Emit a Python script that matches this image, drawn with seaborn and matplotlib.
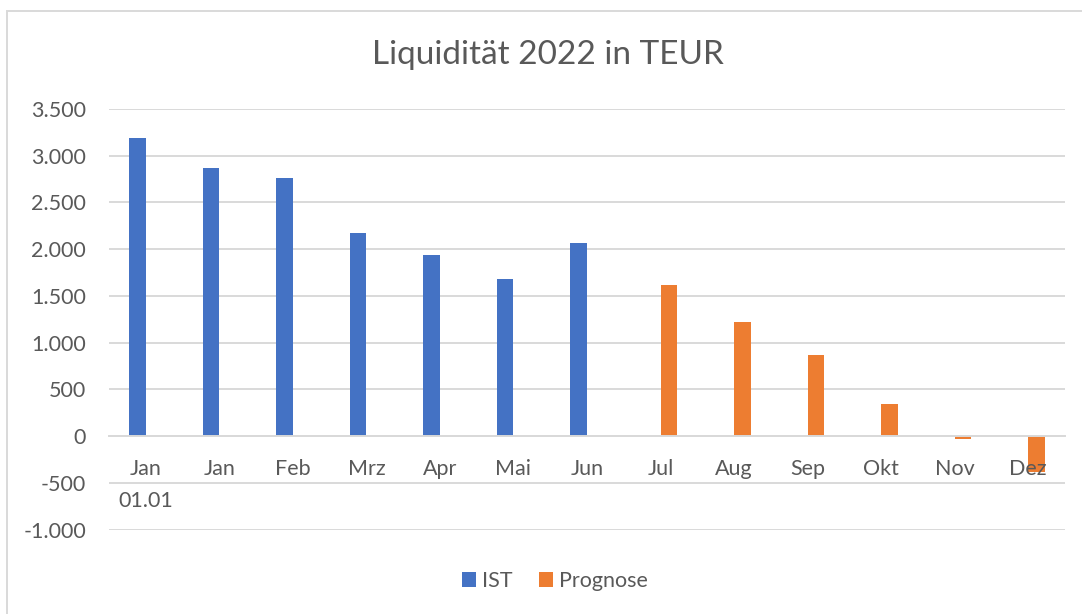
import matplotlib
matplotlib.use("Agg")
import matplotlib.pyplot as plt
import matplotlib.ticker as mticker
from matplotlib.patches import Rectangle, Patch
import pandas as pd
import seaborn as sns

months = ["Jan\n01.01", "Jan", "Feb", "Mrz", "Apr", "Mai", "Jun",
          "Jul", "Aug", "Sep", "Okt", "Nov", "Dez"]
ist_months = months[:7]
ist_values = [3185, 2864, 2757, 2176, 1943, 1676, 2061]
prog_months = months[7:]
prog_values = [1619, 1223, 869, 345, -34, -388]
series = ["IST", "Prognose"]
colors = ["#4472C4", "#ED7D31"]
yticks = [-1000, -500, 0, 500, 1000, 1500, 2000, 2500, 3000, 3500]

df = pd.concat([
    pd.DataFrame({"Monat": ist_months, "Wert": ist_values, "Serie": "IST"}),
    pd.DataFrame({"Monat": prog_months, "Wert": prog_values, "Serie": "Prognose"}),
])

sns.set_theme(style="white")
plt.rcParams["font.family"] = ["Lato", "DejaVu Sans"]

text_color = "#595959"
grid_color = "#D9D9D9"

fig = plt.figure(figsize=(10.82, 6.14), dpi=100)
ax = fig.add_axes([109 / 1082, 1 - 529.6 / 614, (1065 - 109) / 1082, (529.6 - 109) / 614])

sns.barplot(
    data=df,
    x="Monat",
    y="Wert",
    hue="Serie",
    order=months,
    hue_order=series,
    palette=colors,
    saturation=1,
    width=0.45,
    dodge=True,
    linewidth=0,
    legend=False,
    ax=ax
)

ax.set_ylim(-1000, 3500)
ax.set_xlim(-0.5, len(months) - 0.5)
ax.set_yticks(yticks)
ax.yaxis.set_major_formatter(
    mticker.FuncFormatter(lambda v, p: f"{int(v):,}".replace(",", "."))
)
ax.set_xlabel("")
ax.set_ylabel("")

ax.set_axisbelow(True)
ax.yaxis.grid(True, color=grid_color, linewidth=1.4)
ax.xaxis.set_zorder(3)
for s in ["top", "right", "left"]:
    ax.spines[s].set_visible(False)
ax.spines["bottom"].set_position(("data", 0))
ax.spines["bottom"].set_color(grid_color)
ax.spines["bottom"].set_linewidth(1.4)

ax.tick_params(axis="y", length=0, pad=16.5, labelsize=15.5, labelcolor=text_color)
ax.tick_params(axis="x", length=0, pad=16.5, labelsize=15.5, labelcolor=text_color)
for t in ax.get_xticklabels():
    t.set_linespacing(1.75)

fig.text(0.5065, 1 - 55 / 614, "Liquidität 2022 in TEUR",
         ha="center", va="center", fontsize=24, color=text_color)

handles = [Patch(facecolor=c, edgecolor="none") for c in colors]
fig.legend(
    handles, series,
    loc="center",
    bbox_to_anchor=(555 / 1082, 1 - 581 / 614),
    ncol=2,
    frameon=False,
    fontsize=15.5,
    handlelength=0.65,
    handleheight=0.65,
    handletextpad=0.3,
    columnspacing=1.2,
    labelcolor=text_color
)

fig.patches.append(Rectangle(
    (7 / 1082, -0.1), 1.2, 1 - 11 / 614 + 0.1,
    transform=fig.transFigure, fill=False,
    edgecolor=grid_color, linewidth=1.4
))

fig.savefig("out.png", dpi=100)
